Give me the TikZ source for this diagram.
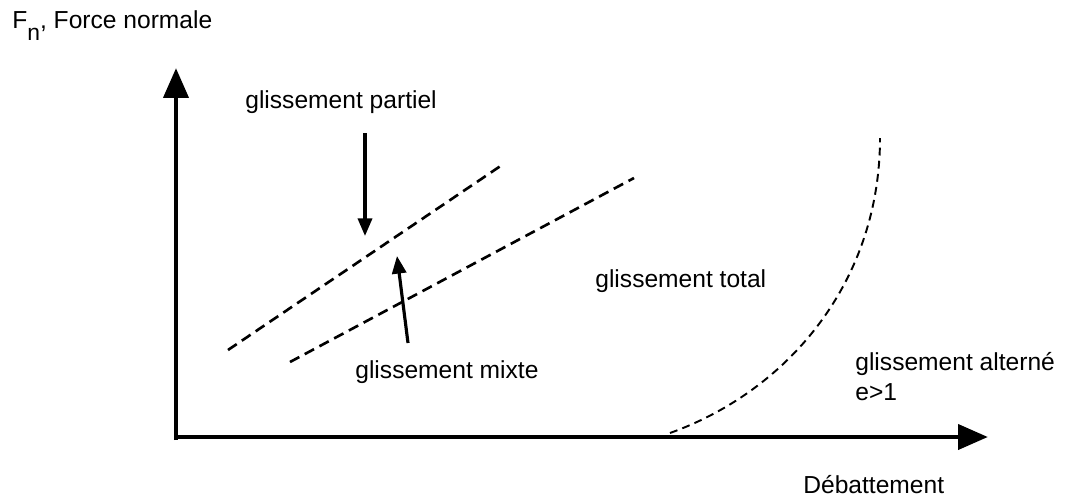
\documentclass[tikz,border=0pt]{standalone}
\usepackage{fontspec}
\setmainfont{Liberation Sans}
\usetikzlibrary{arrows.meta,positioning}
\tikzset{
  axe/.style={line width=2.8pt, -{Triangle[length=17pt,width=14pt]}},
  fleche/.style={line width=1.8pt, -{Triangle[length=10pt,width=8pt]}},
  limite/.style={line width=1.5pt, dash pattern=on 6pt off 3.5pt},
  courbe/.style={line width=1.1pt, dash pattern=on 4.5pt off 3pt},
  etiq/.style={font=\fontsize{14}{17}\selectfont, inner sep=0pt,
    align=left, anchor=base west}
}

\begin{document}
\begin{tikzpicture}[x=0.02cm, y=-0.02cm]
\useasboundingbox (0,0) rectangle (1066,501);

% axes
\coordinate (origine) at (176,440);
\coordinate (haut) at (176,68);
\coordinate (gauche) at (174,437);
\coordinate (droite) at (988,437);
\draw[axe] (origine) -- (haut);
\draw[axe] (gauche) -- (droite);

\node[etiq] (force) at (12,28)
  {F\raisebox{-0.24cm}{\fontsize{13}{14}\selectfont n}, Force normale};
\node[etiq] (deb) at (803,493) {Débattement};

% limites entre regimes
\coordinate (p1) at (228,350);
\coordinate (p2) at (502,165);
\coordinate (m1) at (290,362);
\coordinate (m2) at (634,178);
\draw[limite] (p1) -- (p2);
\draw[limite] (m1) -- (m2);

\coordinate (a1) at (670,433);
\coordinate (a2) at (880,138);
\draw[courbe] (a1) .. controls (790,390) and (880,280) .. (a2);

% zones
\node[etiq] (partiel) at (245,108) {glissement partiel};
\node[etiq] (mixte) at (355,378) {glissement mixte};
\node[etiq] (total) at (595,287) {glissement total};
\node[etiq] (alterne) at (855,400) {glissement alterné\\e>1};

\coordinate (partielbas) at (365,133);
\coordinate (cible1) at (365,236);
\coordinate (mixtehaut) at (408,343);
\coordinate (cible2) at (397,256);
\draw[fleche] (partielbas) -- (cible1);
\draw[fleche] (mixtehaut) -- (cible2);

\end{tikzpicture}
\end{document}
